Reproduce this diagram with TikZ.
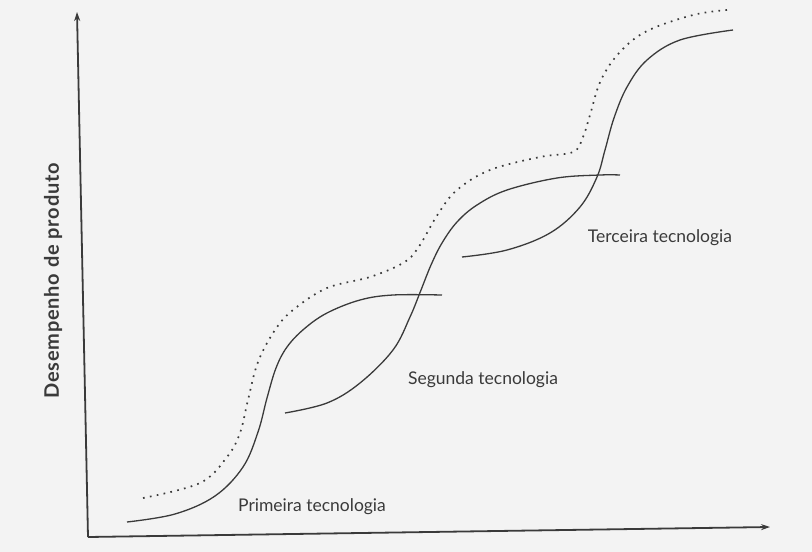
\documentclass[tikz,border=0pt]{standalone}
\usepackage{fontspec}
\setmainfont{Lato}
\usetikzlibrary{arrows.meta}

\definecolor{paper}{HTML}{F3F3F3}
\definecolor{ink}{HTML}{3A3A3A}

\begin{document}
\begin{tikzpicture}[x=1pt, y=-1pt]
    \tikzstyle{axis} = [ink, line width=1.8pt, -{Stealth[length=9pt,width=6pt]}]
    \tikzstyle{scurve} = [ink, line width=1.3pt]
    \tikzstyle{envelope} = [ink, line width=1.7pt, dash pattern=on 1.7pt off 5.3pt]
    \tikzstyle{label} = [ink, font=\fontsize{17.5}{21}\selectfont]

    % page
    \fill[paper] (0,0) rectangle (812,552);
    \useasboundingbox (0,0) rectangle (812,552);

    % axes
    \coordinate (origin) at (88,537);
    \coordinate (ytip) at (77,12);
    \coordinate (xtip) at (770,527);
    \draw[axis] (origin) -- (ytip);
    \draw[axis] (origin) -- (xtip);
    \node (ylabel) [ink, rotate=90, font=\bfseries\fontsize{20}{24}\selectfont\addfontfeatures{LetterSpace=4}] at (53,281) {Desempenho de produto};

    % first technology
    \draw[scurve] plot[smooth, tension=0.6] coordinates {(127,522) (175,514) (215,496) (243,467) (258,432) (267,398) (276,368) (287,347) (304,329) (327,313) (360,300) (393,295) (442,295)};
    % second technology
    \draw[scurve] plot[smooth, tension=0.6] coordinates {(285,413) (327,403) (360,383) (393,350) (410,317) (421,290) (431,265) (442,243) (457,222) (477,205) (507,190) (557,178) (600,175) (620,175)};
    % third technology
    \draw[scurve] plot[smooth, tension=0.6] coordinates {(462,257) (507,250) (550,233) (580,207) (597,177) (605,150) (614,118) (627,87) (647,60) (680,40) (733,30)};
    % envelope
    \draw[envelope] plot[smooth, tension=0.6] coordinates {(143,498) (200,483) (227,457) (240,433) (248,400) (258,362) (275,330) (293,310) (327,288) (370,277) (403,263) (418,248) (438,214) (457,190) (490,170) (540,157) (573,152) (583,137) (590,115) (601,80) (620,52) (647,31) (693,15) (727,10)};

    \node (first) [label] at (312,507) {Primeira tecnologia};
    \node (second) [label] at (483,380) {Segunda tecnologia};
    \node (third) [label] at (660,238) {Terceira tecnologia};
\end{tikzpicture}
\end{document}
